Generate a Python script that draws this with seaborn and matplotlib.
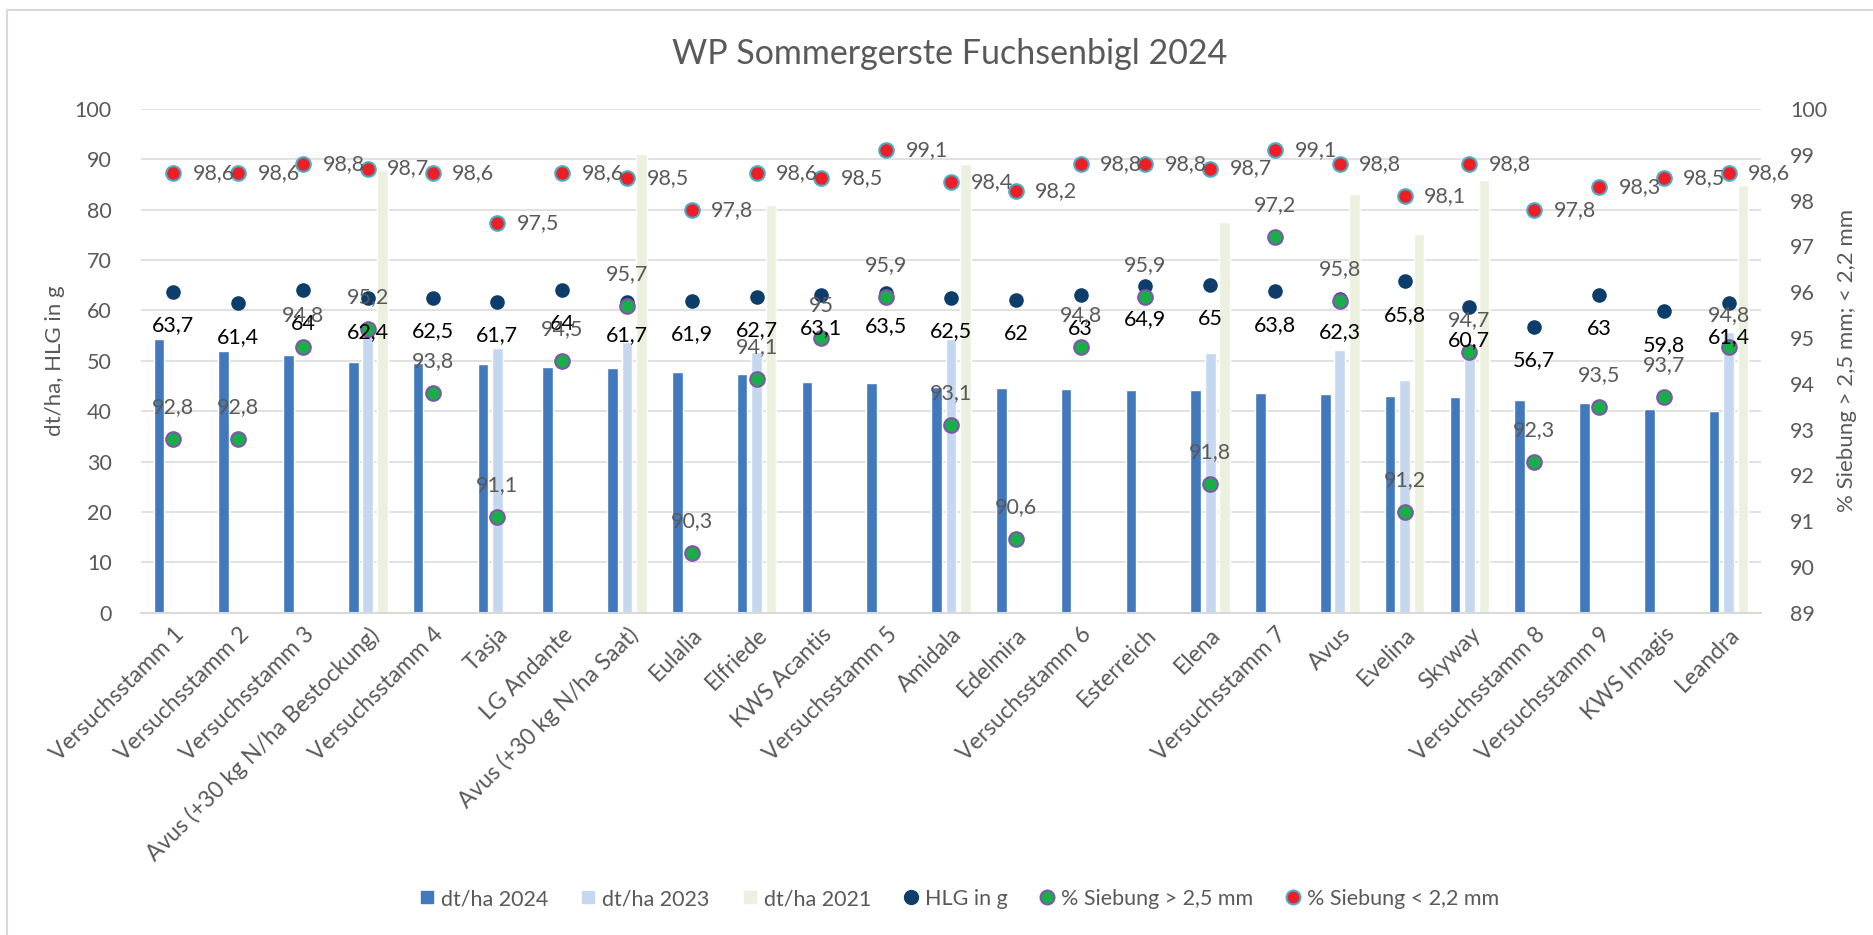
import numpy as np
import pandas as pd
import seaborn as sns
import matplotlib.pyplot as plt
from matplotlib.lines import Line2D

sns.set_style("white")
plt.rcParams['font.family'] = ['Lato', 'DejaVu Sans']

# Sorten / Versuchsglieder
sorten = ["Versuchsstamm 1", "Versuchsstamm 2", "Versuchsstamm 3",
          "Avus (+30 kg N/ha Bestockung)", "Versuchsstamm 4", "Tasja",
          "LG Andante", "Avus (+30 kg N/ha Saat)", "Eulalia", "Elfriede",
          "KWS Acantis", "Versuchsstamm 5", "Amidala", "Edelmira",
          "Versuchsstamm 6", "Esterreich", "Elena", "Versuchsstamm 7",
          "Avus", "Evelina", "Skyway", "Versuchsstamm 8", "Versuchsstamm 9",
          "KWS Imagis", "Leandra"]

# Ertrag dt/ha
dt_2024 = [54.4, 52.0, 51.1, 49.7, 49.6, 49.4, 48.7, 48.5, 47.8, 47.4,
           45.9, 45.7, 44.8, 44.6, 44.4, 44.3, 44.3, 43.7, 43.4, 43.0,
           42.8, 42.3, 41.7, 40.5, 40.0]
dt_2023 = [None, None, None, 55.4, None, 52.6, None, 53.8, None, 51.7,
           None, None, 54.4, None, None, None, 51.5, None, 52.1, 46.1,
           51.6, None, None, None, 55.7]
dt_2021 = [None, None, None, 87.9, None, None, None, 91.0, None, 81.0,
           None, None, 89.1, None, None, None, 77.5, None, 83.1, 75.1,
           86.0, None, None, None, 84.9]

# Hektolitergewicht
hlg = [63.7, 61.4, 64, 62.4, 62.5, 61.7, 64, 61.7, 61.9, 62.7, 63.1, 63.5,
       62.5, 62, 63, 64.9, 65, 63.8, 62.3, 65.8, 60.7, 56.7, 63, 59.8, 61.4]

# Siebung
sieb_gt25 = [92.8, 92.8, 94.8, 95.2, 93.8, 91.1, 94.5, 95.7, 90.3, 94.1, 95,
             95.9, 93.1, 90.6, 94.8, 95.9, 91.8, 97.2, 95.8, 91.2, 94.7,
             92.3, 93.5, 93.7, 94.8]
sieb_lt22 = [98.6, 98.6, 98.8, 98.7, 98.6, 97.5, 98.6, 98.5, 97.8, 98.6,
             98.5, 99.1, 98.4, 98.2, 98.8, 98.8, 98.7, 99.1, 98.8, 98.1,
             98.8, 97.8, 98.3, 98.5, 98.6]

bar_series = ["dt/ha 2024", "dt/ha 2023", "dt/ha 2021"]
bar_colors = ["#4179BC", "#C5D8EF", "#EBF1DE"]
c_hlg = "#0D3D6B"
c_gt, c_gt_edge = "#1AAE4A", "#7E57A8"
c_lt, c_lt_edge = "#EC1F27", "#4BACC6"
grey = "#595959"
grid_c = "#D9D9D9"
fs = 15.5

df = pd.DataFrame({"Sorte": sorten, "dt/ha 2024": dt_2024,
                   "dt/ha 2023": dt_2023, "dt/ha 2021": dt_2021})
bars = df.melt(id_vars="Sorte", var_name="Serie", value_name="dt").dropna()

fig = plt.figure(figsize=(18.74, 9.35), dpi=100)
W, H = 1874, 935
ax = fig.add_axes([141 / W, 1 - 612.7 / H, 1620 / W, 503.7 / H])

sns.barplot(data=bars, x="Sorte", y="dt", hue="Serie", order=sorten,
            hue_order=bar_series, palette=bar_colors, saturation=1,
            width=0.672, gap=0.26, legend=False, ax=ax, zorder=2)
sns.stripplot(x=sorten, y=hlg, order=sorten, jitter=False, color=c_hlg,
              size=10.5, linewidth=0, ax=ax, zorder=3)

ax.set_xlim(-0.5, len(sorten) - 0.5)
ax.set_ylim(0, 100)
ax.set_yticks(range(0, 101, 10))
ax.yaxis.grid(True, color=grid_c, lw=1.1)
ax.set_axisbelow(True)
for s in ["top", "right", "left"]:
    ax.spines[s].set_visible(False)
ax.spines["bottom"].set_color(grid_c)
ax.spines["bottom"].set_linewidth(1.5)
ax.tick_params(axis="both", length=0, labelsize=fs, labelcolor=grey)
ax.tick_params(axis="y", pad=21)
ax.tick_params(axis="x", pad=8, labelsize=16.5)
ax.set_xlabel("")
ax.set_ylabel("dt/ha, HLG in g", fontsize=16, color=grey, labelpad=7)
for lab in ax.get_xticklabels():
    lab.set_rotation(45)
    lab.set_ha("right")
    lab.set_rotation_mode("anchor")

ax2 = ax.twinx()
sns.stripplot(x=sorten, y=sieb_gt25, order=sorten, jitter=False,
              color=c_gt, edgecolor=c_gt_edge, linewidth=1.5, size=10.5,
              ax=ax2, zorder=3)
sns.stripplot(x=sorten, y=sieb_lt22, order=sorten, jitter=False,
              color=c_lt, edgecolor=c_lt_edge, linewidth=1.5, size=10.5,
              ax=ax2, zorder=3)
ax2.set_xlim(-0.5, len(sorten) - 0.5)
ax2.set_ylim(89, 100)
ax2.set_yticks(range(89, 101))
for s in ["top", "right", "left", "bottom"]:
    ax2.spines[s].set_visible(False)
ax2.tick_params(axis="y", length=0, labelsize=fs, labelcolor=grey, pad=21)
ax2.set_ylabel("% Siebung > 2,5 mm; < 2,2 mm", fontsize=16, color=grey,
               labelpad=7)
ax2.set_xlabel("")

def fmt(v):
    return f"{v:g}".replace(".", ",")

# Datenbeschriftungen
for i in range(len(sorten)):
    ax2.annotate(fmt(hlg[i]), (i, hlg[i]), xycoords=ax.transData,
                 xytext=(0, -24), textcoords="offset points", ha="center",
                 va="center", fontsize=fs, color="black", zorder=5)
    ax2.annotate(fmt(sieb_gt25[i]), (i, sieb_gt25[i]), xytext=(0, 23),
                 textcoords="offset points", ha="center", va="center",
                 fontsize=fs, color=grey, zorder=5)
    ax2.annotate(fmt(sieb_lt22[i]), (i, sieb_lt22[i]), xytext=(14, 0),
                 textcoords="offset points", ha="left", va="center",
                 fontsize=fs, color=grey, zorder=5)

fig.suptitle("WP Sommergerste Fuchsenbigl 2024", x=0.507, y=1 - 54 / H,
             va="center", fontsize=24.5, color=grey)

handles = [Line2D([], [], ls="", marker="s", ms=9, color=c, mec=c)
           for c in bar_colors]
handles += [Line2D([], [], ls="", marker="o", ms=10, color=c_hlg, mec=c_hlg),
            Line2D([], [], ls="", marker="o", ms=10, color=c_gt, mec=c_gt_edge,
                   mew=1.5),
            Line2D([], [], ls="", marker="o", ms=10, color=c_lt, mec=c_lt_edge,
                   mew=1.5)]
labels = bar_series + ["HLG in g", "% Siebung > 2,5 mm", "% Siebung < 2,2 mm"]
fig.legend(handles, labels, loc="center", bbox_to_anchor=(0.512, 1 - 899 / H),
           ncol=6, frameon=False, fontsize=fs, labelcolor=grey,
           handlelength=0.7, handletextpad=0.3, columnspacing=1.5)

# Rahmen des Diagrammbereichs
fig.add_artist(Line2D([7 / W, 7 / W], [0, 1 - 10 / H], color=grid_c, lw=1.5))
fig.add_artist(Line2D([7 / W, 1], [1 - 10 / H, 1 - 10 / H], color=grid_c, lw=1.5))

fig.savefig("out.png", dpi=100)
